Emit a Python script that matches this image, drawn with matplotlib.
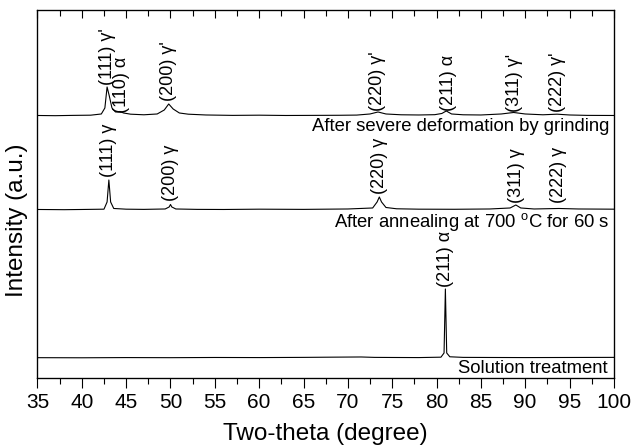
import numpy as np
import matplotlib
matplotlib.use("Agg")
import matplotlib.pyplot as plt

plt.rcParams['font.family'] = ['Liberation Sans', 'DejaVu Sans']
plt.rcParams['mathtext.fontset'] = 'custom'
plt.rcParams['mathtext.rm'] = 'Liberation Sans'
plt.rcParams['mathtext.it'] = 'Liberation Sans'

# two-theta / intensity (a.u., above each trace's own baseline)
tt_grind = [35, 37, 39, 41, 42.2, 42.6, 42.85, 43.1, 43.4, 43.8, 44.3, 44.7, 45.5, 47, 48.5,
            49.3, 49.8, 50.3, 51, 52, 54, 57, 60, 63, 66, 69, 71, 72.5, 73.4, 74.3, 76, 78,
            79.8, 80.6, 81.1, 81.7, 83, 85, 87.3, 88.7, 90, 92, 93.6, 95, 97, 100]
i_grind = [0.5, 0.3, 0.6, 0.8, 2, 8, 29, 20, 8, 4, 4.5, 3, 1.8, 1.2, 2,
           6, 12, 7, 3, 1.8, 1.0, 0.6, 0.8, 0.5, 0.6, 0.7, 0.9, 2, 4, 2, 1.2, 1.0,
           1.3, 2.5, 5, 2, 1.2, 1.0, 2, 3.5, 2, 1.2, 1.8, 1.0, 0.6, 0.5]

tt_anneal = [35, 38, 40, 42.5, 42.85, 43.05, 43.25, 43.6, 45, 47, 49.4, 49.85, 50.0, 50.15,
             50.6, 53, 56, 60, 65, 70, 72.8, 73.3, 73.55, 73.8, 74.3, 75.5, 78, 82, 86,
             88.3, 88.95, 89.5, 91, 93.8, 96, 100]
i_anneal = [0.5, 0.3, 0.5, 0.8, 8, 30, 8, 1.5, 0.8, 0.6, 1, 3, 5.5, 3,
            1, 0.6, 0.5, 0.8, 0.6, 1, 2, 8, 13, 8, 2.5, 1.2, 0.8, 0.7, 1,
            2, 5, 2, 1, 1.5, 1, 0.8]

tt_solution = [35, 40, 45, 50, 55, 60, 65, 68, 71.5, 73, 75, 78, 80.5, 80.85, 81.0, 81.15,
               81.5, 83, 86, 90, 95, 100]
i_solution = [0.3, 0.2, 0.4, 0.3, 0.5, 0.4, 0.6, 0.8, 1.0, 0.6, 0.5, 0.4, 0.8, 5, 69, 5,
              1.2, 0.6, 0.5, 0.4, 0.5, 0.6]

offset_grind, offset_anneal, offset_solution = 262, 168, 20

# peak labels: position, label, height of label bottom above axis
grind_labels = [(42.85, "(111) γ'", 293), (44.5, "(110) α", 265), (49.8, "(200) γ'", 277),
                (73.4, "(220) γ'", 267), (81.3, "(211) α", 267), (88.8, "(311) γ'", 266),
                (93.7, "(222) γ'", 266)]
anneal_labels = [(43.05, "(111) γ", 201), (50.0, "(200) γ", 177), (73.55, "(220) γ", 184),
                 (89.0, "(311) γ", 175), (93.8, "(222) γ", 175)]
solution_labels = [(81.0, "(211) α", 91)]

fig = plt.figure(figsize=(6.32, 4.48), dpi=100)
ax = fig.add_axes([0.0593, 0.1563, 0.912, 0.8203])

ax.plot(tt_grind, np.array(i_grind) + offset_grind, color="black", lw=0.8)
ax.plot(tt_anneal, np.array(i_anneal) + offset_anneal, color="black", lw=0.8)
ax.plot(tt_solution, np.array(i_solution) + offset_solution, color="black", lw=0.8)

for x, s, y in grind_labels + anneal_labels + solution_labels:
    ax.text(x, y, s, rotation=90, ha="center", va="bottom", fontsize=13)

ax.text(99.5, offset_grind - 11, "After severe deformation by grinding", ha="right",
        va="center", fontsize=13.3)
ax.text(99.5, offset_anneal - 12, r"After annealing at 700 $^{\mathrm{o}}$C for 60 s",
        ha="right", va="center", fontsize=13.3)
ax.text(99.3, offset_solution - 11, "Solution treatment", ha="right", va="center", fontsize=13.3)

ax.set_xlim(35, 100)
ax.set_ylim(0, 367.5)
ax.set_xticks(np.arange(35, 101, 5))
ax.set_xticks(np.arange(35, 100, 2.5), minor=True)
ax.set_yticks([])
ax.tick_params(axis="x", which="major", direction="out", length=7, width=0.8, labelsize=15, pad=4)
ax.tick_params(axis="x", which="minor", direction="out", length=4, width=0.8)
for sp in ax.spines.values():
    sp.set_linewidth(0.9)

top = ax.twiny()
top.set_xlim(35, 100)
top.set_xticks(np.arange(35, 101, 5))
top.set_xticks(np.arange(35, 100, 2.5), minor=True)
top.tick_params(axis="x", which="major", direction="in", length=6, width=0.8, labeltop=False)
top.tick_params(axis="x", which="minor", direction="in", length=4, width=0.8)

ax.set_xlabel("Two-theta (degree)", fontsize=17.5, labelpad=8)
ax.set_ylabel("Intensity (a.u.)", fontsize=17.5)
ax.yaxis.set_label_coords(-0.017, 0.43)

fig.savefig("out.png", dpi=100)
